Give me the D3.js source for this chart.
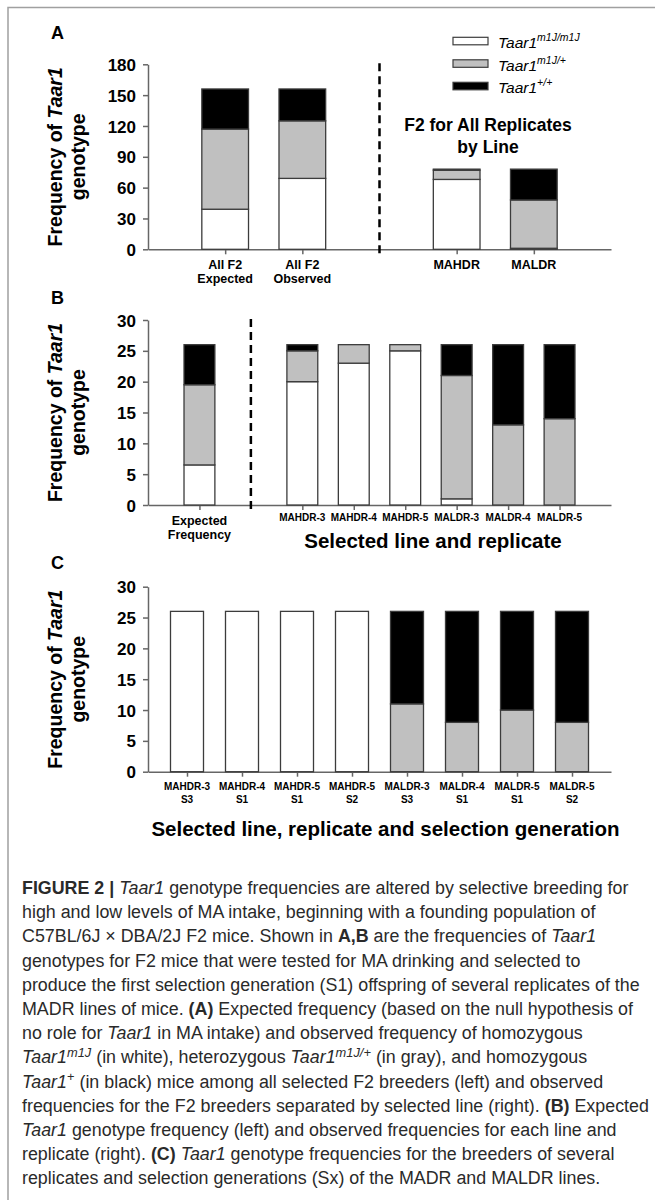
<!DOCTYPE html>
<html><head><meta charset="utf-8">
<script src="https://cdn.jsdelivr.net/npm/d3@7"></script>
<style>body{margin:0;background:#fff} svg{display:block}</style>
</head><body><svg id="c" width="655" height="1200"></svg>
<script>
// ---------------- DATA ----------------
const genotypeKeys = ["white", "gray", "black"];
const legendBase = ["Taar1", "Taar1", "Taar1"];
const legendSup = ["m1J/m1J", "m1J/+", "+/+"];

const aCategories = [["All F2", "Expected"], ["All F2", "Observed"], ["MAHDR"], ["MALDR"]];
const aWhite = [39, 69, 68, 1];
const aGray  = [78, 56, 9, 47];
const aBlack = [39, 31, 1, 30];
const aTicks = [0, 30, 60, 90, 120, 150, 180];

const bCategories = [["Expected", "Frequency"], ["MAHDR-3"], ["MAHDR-4"], ["MAHDR-5"], ["MALDR-3"], ["MALDR-4"], ["MALDR-5"]];
const bWhite = [6.5, 20, 23, 25, 1, 0, 0];
const bGray  = [13, 5, 3, 1, 20, 13, 14];
const bBlack = [6.5, 1, 0, 0, 5, 13, 12];
const bTicks = [0, 5, 10, 15, 20, 25, 30];

const cCategories = [["MAHDR-3", "S3"], ["MAHDR-4", "S1"], ["MAHDR-5", "S1"], ["MAHDR-5", "S2"], ["MALDR-3", "S3"], ["MALDR-4", "S1"], ["MALDR-5", "S1"], ["MALDR-5", "S2"]];
const cWhite = [26, 26, 26, 26, 0, 0, 0, 0];
const cGray  = [0, 0, 0, 0, 11, 8, 10, 8];
const cBlack = [0, 0, 0, 0, 15, 18, 16, 18];
const cTicks = [0, 5, 10, 15, 20, 25, 30];

const yTitle = ["Frequency of ", "Taar1", "genotype"];
const aNote = ["F2 for All Replicates", "by Line"];
const bXTitle = "Selected line and replicate";
const cXTitle = "Selected line, replicate and selection generation";

// caption lines: [text, style] style: n normal, b bold, i italic, s superscript (italic), u superscript upright
const captionLines = [
  [["FIGURE 2 | ", "b"], ["Taar1", "i"], [" genotype frequencies are altered by selective breeding for", "n"]],
  [["high and low levels of MA intake, beginning with a founding population of", "n"]],
  [["C57BL/6J \u00d7 DBA/2J F2 mice. Shown in ", "n"], ["A,B", "b"], [" are the frequencies of ", "n"], ["Taar1", "i"]],
  [["genotypes for F2 mice that were tested for MA drinking and selected to", "n"]],
  [["produce the first selection generation (S1) offspring of several replicates of the", "n"]],
  [["MADR lines of mice. ", "n"], ["(A)", "b"], [" Expected frequency (based on the null hypothesis of", "n"]],
  [["no role for ", "n"], ["Taar1", "i"], [" in MA intake) and observed frequency of homozygous", "n"]],
  [["Taar1", "i"], ["m1J", "s"], [" (in white), heterozygous ", "n"], ["Taar1", "i"], ["m1J/+", "s"], [" (in gray), and homozygous", "n"]],
  [["Taar1", "i"], ["+", "u"], [" (in black) mice among all selected F2 breeders (left) and observed", "n"]],
  [["frequencies for the F2 breeders separated by selected line (right). ", "n"], ["(B)", "b"], [" Expected", "n"]],
  [["Taar1", "i"], [" genotype frequency (left) and observed frequencies for each line and", "n"]],
  [["replicate (right). ", "n"], ["(C)", "b"], [" ", "n"], ["Taar1", "i"], [" genotype frequencies for the breeders of several", "n"]],
  [["replicates and selection generations (Sx) of the MADR and MALDR lines.", "n"]]
];

// ---------------- DRAW ----------------
const svg = d3.select("#c");
const FONT = "'Liberation Sans', Arial, Helvetica, sans-serif";
const fill = {white: "#ffffff", gray: "#c0c0c0", black: "#000000"};
const STROKE = "#3c3c3c", AXIS = "#666";

// frame
svg.append("path").attr("d", "M8,1200 V7.5 H655").attr("fill", "none").attr("stroke", "#a0a0a0").attr("stroke-width", 1.5);

function panel(cfg) {
  const g = svg.append("g");
  const ids = cfg.cats.map((c, i) => "c" + i);
  const domain = ids.slice();
  if (cfg.dividerAfter != null) domain.splice(cfg.dividerAfter + 1, 0, "div");
  const x = d3.scalePoint().domain(domain).range([148, 611]).padding(cfg.padding);
  const y = d3.scaleLinear().domain([0, cfg.yMax]).range([cfg.y0, cfg.y1]);
  const bw = x.step() * cfg.barFrac;

  const ya = g.append("g").attr("transform", "translate(148,0)")
    .call(d3.axisLeft(y).tickValues(cfg.ticks).tickSize(5).tickSizeOuter(0).tickPadding(7));
  ya.select(".domain").attr("stroke", AXIS).attr("stroke-width", 1.5);
  ya.selectAll(".tick line").attr("stroke", AXIS).attr("stroke-width", 1.5);
  ya.selectAll(".tick text").attr("font-family", FONT).attr("font-weight", "bold").attr("font-size", 17).attr("fill", "#000").attr("dy", "0.36em");

  const xa = g.append("g").attr("transform", `translate(0,${cfg.y0})`)
    .call(d3.axisBottom(x).tickValues(ids).tickSize(5).tickSizeOuter(0).tickFormat(""));
  xa.select(".domain").attr("stroke", AXIS).attr("stroke-width", 1.5);
  xa.selectAll(".tick line").attr("stroke", AXIS).attr("stroke-width", 1.5);

  const rows = cfg.cats.map((c, i) => ({id: ids[i], white: cfg.white[i], gray: cfg.gray[i], black: cfg.black[i]}));
  const series = d3.stack().keys(genotypeKeys)(rows);
  series.forEach(s => {
    g.append("g").selectAll("rect").data(s.filter(d => d[1] - d[0] > 0)).join("rect")
      .attr("x", d => x(d.data.id) - bw / 2).attr("width", bw)
      .attr("y", d => y(d[1])).attr("height", d => y(d[0]) - y(d[1]))
      .attr("fill", fill[s.key]).attr("stroke", STROKE).attr("stroke-width", 1.3);
  });

  if (cfg.dividerAfter != null) {
    g.append("line").attr("x1", x("div")).attr("x2", x("div"))
      .attr("y1", y(cfg.yMax) - 1).attr("y2", cfg.y0 + 6)
      .attr("stroke", "#000").attr("stroke-width", 2.5).attr("stroke-dasharray", "8,5");
  }

  cfg.cats.forEach((c, i) => {
    const big = cfg.big(i);
    const t = g.append("text").attr("x", x(ids[i])).attr("text-anchor", "middle")
      .attr("font-family", FONT).attr("font-weight", "bold").attr("font-size", big ? 12.5 : 10).attr("fill", "#000");
    c.forEach((line, k) => {
      t.append("tspan").attr("x", x(ids[i])).attr("y", cfg.y0 + (big ? cfg.bigOff[k] : cfg.smallOff[k])).text(line);
    });
  });

  const yt = g.append("text").attr("transform", `translate(${cfg.ytx},${(cfg.y0 + cfg.y1) / 2}) rotate(-90)`)
    .attr("text-anchor", "middle").attr("font-family", FONT).attr("font-weight", "bold").attr("font-size", cfg.ytSize).attr("fill", "#000");
  const l1 = yt.append("tspan").attr("x", 0).attr("y", 0);
  l1.append("tspan").text(yTitle[0]);
  l1.append("tspan").attr("font-style", "italic").text(yTitle[1]);
  yt.append("tspan").attr("x", 0).attr("y", cfg.ytGap).text(yTitle[2]);

  g.append("text").attr("x", 51).attr("y", cfg.letterY).attr("font-family", FONT).attr("font-weight", "bold")
    .attr("font-size", 18).attr("fill", "#000").text(cfg.letter);
  return {x, y};
}

panel({letter: "A", letterY: 38.5, cats: aCategories, white: aWhite, gray: aGray, black: aBlack,
  ticks: aTicks, yMax: 180, y0: 249.3, y1: 64.3, dividerAfter: 1, padding: 1, barFrac: 0.605,
  big: i => true, bigOff: [19.5, 34], smallOff: [18, 31], ytx: 62, ytGap: 23, ytSize: 19.5});

panel({letter: "B", letterY: 303.5, cats: bCategories, white: bWhite, gray: bGray, black: bBlack,
  ticks: bTicks, yMax: 30, y0: 505, y1: 320, dividerAfter: 0, padding: 1, barFrac: 0.6,
  big: i => i === 0, bigOff: [19.5, 34], smallOff: [16, 29], ytx: 62, ytGap: 23, ytSize: 19.5});

panel({letter: "C", letterY: 569, cats: cCategories, white: cWhite, gray: cGray, black: cBlack,
  ticks: cTicks, yMax: 30, y0: 771.7, y1: 586.7, dividerAfter: null, padding: 0.709, barFrac: 0.6,
  big: i => false, bigOff: [19.5, 34], smallOff: [18, 31.5], ytx: 62, ytGap: 23, ytSize: 19.5});

// legend
legendSup.forEach((sup, i) => {
  const yy = 41 + i * 22.5;
  svg.append("rect").attr("x", 453).attr("y", yy - 3.7).attr("width", 35).attr("height", 7.5)
    .attr("fill", fill[genotypeKeys[i]]).attr("stroke", STROKE).attr("stroke-width", 1.2);
  const t = svg.append("text").attr("x", 498).attr("y", yy + 7).attr("font-family", FONT)
    .attr("font-style", "italic").attr("font-size", 15.5).attr("fill", "#000");
  t.append("tspan").text(legendBase[i]);
  t.append("tspan").attr("font-size", 10.5).attr("dy", -7).text(sup);
});

svg.append("text").attr("x", 488).attr("text-anchor", "middle").attr("font-family", FONT)
  .attr("font-weight", "bold").attr("font-size", 17.5).attr("fill", "#000")
  .selectAll("tspan").data(aNote).join("tspan").attr("x", 488).attr("y", (d, i) => 131 + i * 22).text(d => d);

svg.append("text").attr("x", 433).attr("y", 548).attr("text-anchor", "middle").attr("font-family", FONT)
  .attr("font-weight", "bold").attr("font-size", 20.5).attr("fill", "#000").text(bXTitle);
svg.append("text").attr("x", 385.5).attr("y", 835.5).attr("text-anchor", "middle").attr("font-family", FONT)
  .attr("font-weight", "bold").attr("font-size", 20.5).attr("fill", "#000").text(cXTitle);

// caption
const cap = svg.append("g");
function drawCaption(size) {
  cap.selectAll("*").remove();
  captionLines.forEach((line, k) => {
    const t = cap.append("text").attr("x", 22).attr("y", 894 + k * 24.2).attr("font-family", FONT)
      .attr("font-size", size).attr("fill", "#2a2a2a");
    let pending = 0;
    line.forEach(([txt, st]) => {
      const ts = t.append("tspan").text(txt);
      if (st === "b") ts.attr("font-weight", "bold");
      if (st === "i" || st === "s") ts.attr("font-style", "italic");
      if (st === "s" || st === "u") {
        const up = size * 0.38;
        ts.attr("font-size", size * 0.72).attr("dy", pending - up);
        pending = up;
      } else {
        if (pending) ts.attr("dy", pending);
        pending = 0;
      }
    });
  });
}
let capSize = 16;
drawCaption(capSize);
const w5 = cap.selectAll("text").nodes()[4].getComputedTextLength();
capSize = capSize * 618 / w5;
drawCaption(capSize);
</script></body></html>
